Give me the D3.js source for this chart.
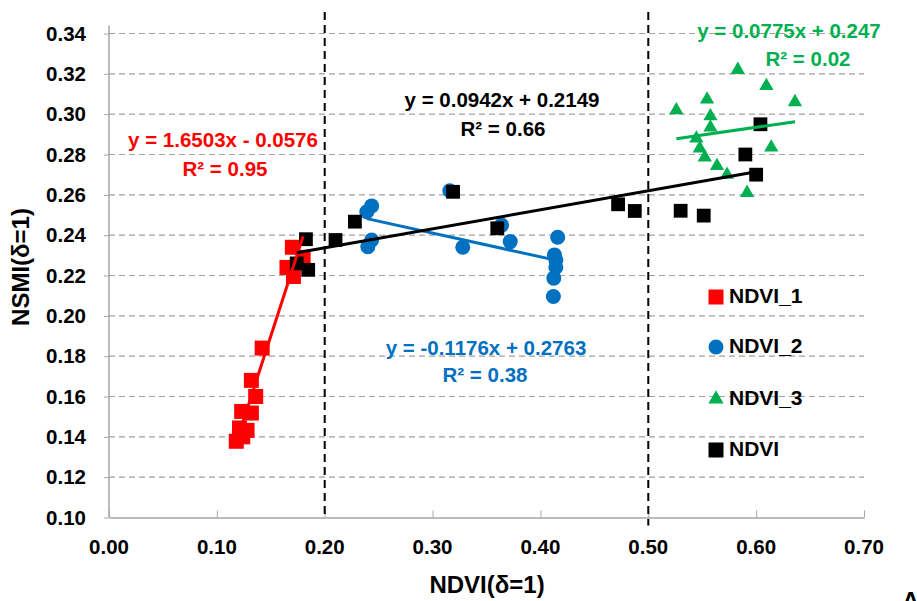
<!DOCTYPE html>
<html>
<head>
<meta charset="utf-8">
<script src="https://cdn.jsdelivr.net/npm/d3@7"></script>
<style>
  html, body { margin: 0; padding: 0; background: #fff; }
  svg text { font-family: "Liberation Sans", Arial, sans-serif; font-weight: bold; }
</style>
</head>
<body>
<svg id="chart" width="917" height="601"></svg>
<script>
// NDVI_1 group (red squares)
const ndvi1X = [0.170, 0.165, 0.171, 0.180, 0.142, 0.132, 0.136, 0.123, 0.132, 0.121, 0.128, 0.118, 0.124];
const ndvi1Y = [0.234, 0.224, 0.2195, 0.229, 0.184, 0.168, 0.160, 0.1526, 0.1518, 0.1444, 0.1432, 0.1378, 0.140];
// NDVI_2 group (blue circles)
const ndvi2X = [0.316, 0.2435, 0.239, 0.2435, 0.240, 0.328, 0.364, 0.372, 0.416, 0.413, 0.4143, 0.4143, 0.4124, 0.412];
const ndvi2Y = [0.262, 0.2545, 0.2516, 0.2376, 0.2343, 0.234, 0.245, 0.2368, 0.239, 0.2302, 0.2277, 0.2241, 0.2187, 0.2096];
// NDVI_3 group (green triangles)
const ndvi3X = [0.583, 0.6095, 0.636, 0.526, 0.5545, 0.5576, 0.5576, 0.5446, 0.5477, 0.5524, 0.5637, 0.573, 0.614, 0.5916];
const ndvi3Y = [0.322, 0.314, 0.306, 0.302, 0.3073, 0.299, 0.2934, 0.288, 0.283, 0.2786, 0.2743, 0.270, 0.2835, 0.261];
// All NDVI (black squares)
const ndviX = [0.1826, 0.210, 0.1847, 0.174, 0.228, 0.319, 0.360, 0.472, 0.4875, 0.530, 0.5514, 0.590, 0.600, 0.604];
const ndviY = [0.238, 0.2376, 0.2228, 0.226, 0.2467, 0.2615, 0.2434, 0.2553, 0.252, 0.2521, 0.2497, 0.280, 0.270, 0.295];

// Linear fits: slope, intercept, R²
const fitSlopes = [1.6503, -0.1176, 0.0775, 0.0942];
const fitIntercepts = [-0.0576, 0.2763, 0.247, 0.2149];
const fitR2 = ["0.95", "0.38", "0.02", "0.66"];

const seriesNames = ["NDVI_1", "NDVI_2", "NDVI_3", "NDVI"];
const seriesColors = ["#ff0000", "#0070c0", "#00b050", "#000000"];

const xTicks = [0, 0.1, 0.2, 0.3, 0.4, 0.5, 0.6, 0.7];
const yTicks = [0.10, 0.12, 0.14, 0.16, 0.18, 0.20, 0.22, 0.24, 0.26, 0.28, 0.30, 0.32, 0.34];
const thresholds = [0.2, 0.5];

const svg = d3.select("#chart");
const x = d3.scaleLinear().domain([0, 0.7]).range([109, 864]);
const y = d3.scaleLinear().domain([0.10, 0.34]).range([517.5, 33.5]);
const yTop = y(0.344);

// horizontal gridlines
svg.append("g").selectAll("line").data(yTicks.slice(1)).join("line")
  .attr("x1", x(0)).attr("x2", x(0.7))
  .attr("y1", d => y(d)).attr("y2", d => y(d))
  .attr("stroke", "#a0a0a0").attr("stroke-width", 1.2)
  .attr("stroke-dasharray", "6,4");

// y axis
const yAxis = d3.axisLeft(y).tickValues(yTicks).tickFormat(d3.format(".2f"))
  .tickSize(5).tickSizeOuter(0);
const gy = svg.append("g").attr("transform", `translate(${x(0)},0)`).call(yAxis);
gy.select(".domain").remove();
gy.append("line").attr("x1", 0).attr("x2", 0).attr("y1", yTop).attr("y2", y(0.10))
  .attr("stroke", "#a6a6a6").attr("stroke-width", 1.5);
gy.selectAll(".tick line").attr("stroke", "#a6a6a6");
gy.selectAll(".tick text").attr("x", -23).attr("font-size", 20.5).attr("fill", "#000")
  .attr("font-family", "Liberation Sans, Arial, sans-serif").attr("font-weight", "bold");

// x axis with inward ticks
const xAxis = d3.axisTop(x).tickValues(xTicks).tickFormat(() => "").tickSize(7).tickSizeOuter(0);
const gx = svg.append("g").attr("transform", `translate(0,${y(0.10)})`).call(xAxis);
gx.select(".domain").attr("stroke", "#a6a6a6").attr("stroke-width", 1.5);
gx.selectAll(".tick line").attr("stroke", "#a6a6a6");
svg.append("g").selectAll("text").data(xTicks).join("text")
  .attr("x", d => x(d)).attr("y", 549)
  .attr("text-anchor", "middle").attr("dominant-baseline", "middle")
  .attr("font-size", 20.5).text(d3.format(".2f"));

// threshold dashed lines
svg.append("g").selectAll("line").data(thresholds).join("line")
  .attr("x1", d => x(d)).attr("x2", d => x(d))
  .attr("y1", 12).attr("y2", (d, i) => i === 0 ? y(0.10) : y(0.10) + 8)
  .attr("stroke", "#000").attr("stroke-width", 2)
  .attr("stroke-dasharray", "8,5");

// markers
const sets = [
  {xs: ndvi1X, ys: ndvi1Y, type: d3.symbolSquare, size: 225},
  {xs: ndvi2X, ys: ndvi2Y, type: d3.symbolCircle, size: 177},
  {xs: ndvi3X, ys: ndvi3Y, type: d3.symbolTriangle, size: 88},
  {xs: ndviX, ys: ndviY, type: d3.symbolSquare, size: 190}
];
sets.forEach((s, i) => {
  const pts = s.xs.map((v, k) => [v, s.ys[k]]);
  svg.append("g").selectAll("path").data(pts).join("path")
    .attr("d", d3.symbol(s.type, s.size))
    .attr("transform", d => `translate(${x(d[0])},${y(d[1])})`)
    .attr("fill", seriesColors[i]);
});

// trend lines across each series' x-range
sets.forEach((s, i) => {
  const [x0, x1] = d3.extent(s.xs);
  const f = v => fitSlopes[i] * v + fitIntercepts[i];
  svg.append("line")
    .attr("x1", x(x0)).attr("y1", y(f(x0)))
    .attr("x2", x(x1)).attr("y2", y(f(x1)))
    .attr("stroke", seriesColors[i]).attr("stroke-width", 3);
});

// equation labels
const eqPos = [[223, 142, 225, 171], [486, 350, 485, 377], [789, 33, 808, 61], [502, 102, 503, 131]];
const fmtEq = i => {
  const b = fitIntercepts[i];
  return `y = ${fitSlopes[i]}x ${b < 0 ? "-" : "+"} ${Math.abs(b)}`;
};
eqPos.forEach((p, i) => {
  svg.append("text").attr("x", p[0]).attr("y", p[1])
    .attr("text-anchor", "middle").attr("dominant-baseline", "middle")
    .attr("font-size", 20.5).attr("fill", seriesColors[i]).text(fmtEq(i));
  svg.append("text").attr("x", p[2]).attr("y", p[3])
    .attr("text-anchor", "middle").attr("dominant-baseline", "middle")
    .attr("font-size", 20.5).attr("fill", seriesColors[i]).text(`R² = ${fitR2[i]}`);
});

// legend
const legendY = [297, 347, 399, 450];
const legendTypes = [d3.symbolSquare, d3.symbolCircle, d3.symbolTriangle, d3.symbolSquare];
const legendSizes = [225, 177, 100, 225];
seriesNames.forEach((name, i) => {
  svg.append("path").attr("d", d3.symbol(legendTypes[i], legendSizes[i]))
    .attr("transform", `translate(716,${legendY[i]})`).attr("fill", seriesColors[i]);
  svg.append("text").attr("x", 729).attr("y", legendY[i])
    .attr("dominant-baseline", "middle").attr("font-size", 21).text(name);
});

// axis titles
svg.append("text").attr("x", 487).attr("y", 587)
  .attr("text-anchor", "middle").attr("dominant-baseline", "middle")
  .attr("font-size", 24).text("NDVI(δ=1)");
svg.append("text").attr("transform", "translate(23,267) rotate(-90)")
  .attr("text-anchor", "middle").attr("dominant-baseline", "middle")
  .attr("font-size", 24).text("NSMI(δ=1)");
svg.append("text").attr("x", 902).attr("y", 609).attr("font-size", 24).text("A");
</script>
</body>
</html>
